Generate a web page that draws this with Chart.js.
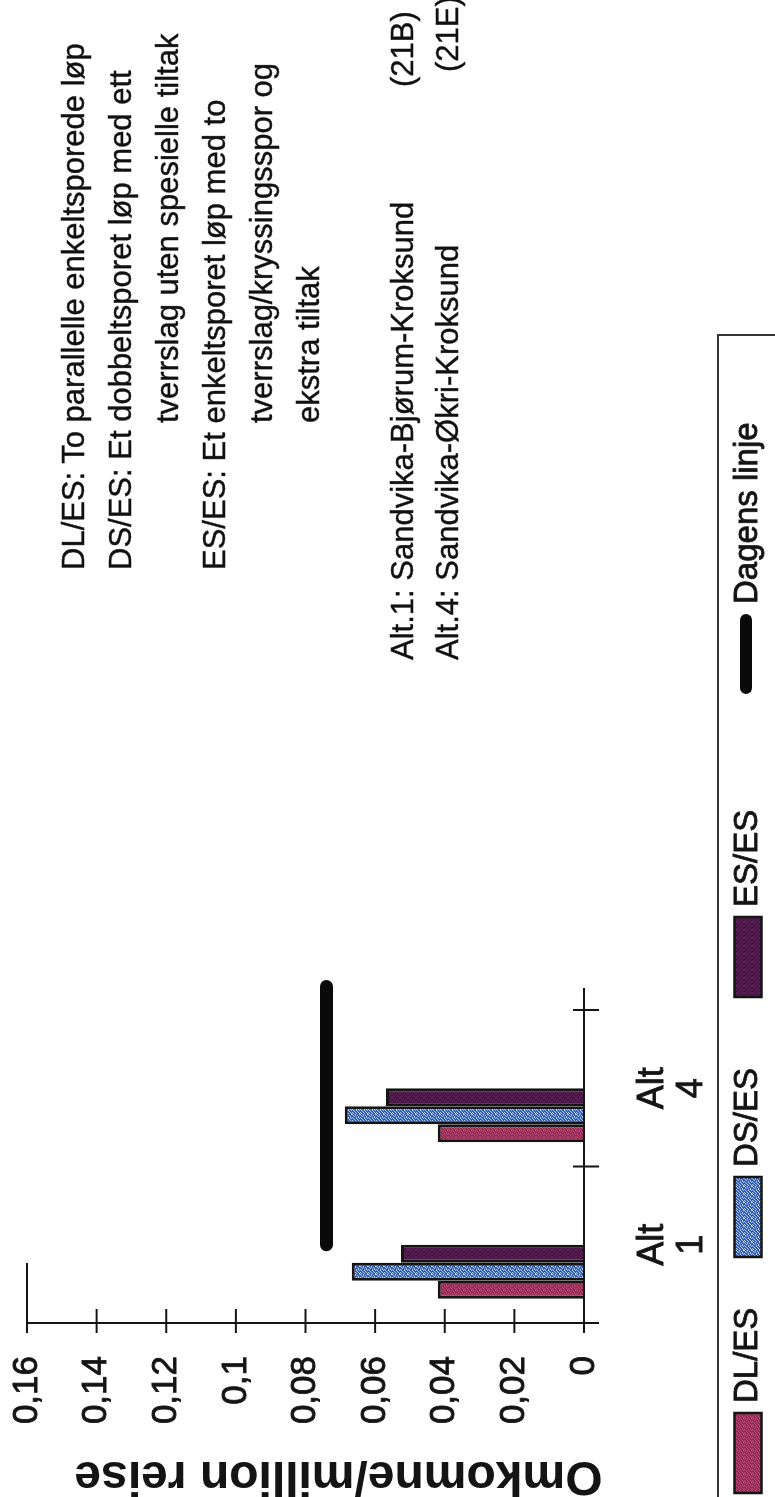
<!DOCTYPE html>
<html>
<head>
<meta charset="utf-8">
<script src="https://cdn.jsdelivr.net/npm/chart.js@4.4.1/dist/chart.umd.min.js"></script>
<style>
  html, body { margin: 0; padding: 0; background: #fff; overflow: hidden; width: 775px; height: 1497px; }
  /* the whole figure is laid out landscape and turned a quarter turn */
  #stage { position: absolute; left: 0; top: 0; width: 1497px; height: 775px;
           transform-origin: 0 0; transform: translate(0, 1497px) rotate(-90deg); background: #fff; }
  #stage canvas { position: absolute; left: 0; top: 0; }
  .note { position: absolute; font-family: "Liberation Sans", Arial, sans-serif; font-size: 31px;
          line-height: 47px; color: #111; white-space: nowrap; -webkit-text-stroke: 0.4px #111; }
  .note .in { padding-left: 147px; }
  .code { position: absolute; top: 0; }
</style>
</head>
<body>
<div id="stage">
  <canvas id="c" width="1497" height="775"></canvas>
  <div class="note" style="left:927px; top:50px;"><div>DL/ES: To parallelle enkeltsporede løp</div><div>DS/ES: Et dobbeltsporet løp med ett</div><div class="in">tverrslag uten spesielle tiltak</div><div>ES/ES: Et enkeltsporet løp med to</div><div class="in">tverrslag/kryssingsspor og</div><div class="in">ekstra tiltak</div></div>
  <div class="note" style="left:837px; top:379px; width:660px; height:47px;">Alt.1: Sandvika-Bjørum-Kroksund<span class="code" style="left:573px;">(21B)</span></div>
  <div class="note" style="left:837px; top:424px; width:660px; height:47px;">Alt.4: Sandvika-Økri-Kroksund<span class="code" style="left:588px;">(21E)</span></div>
</div>
<script>
// ---- data ----
const categories = [['Alt', '1'], ['Alt', '4']];
const seriesNames = ['DL/ES', 'DS/ES', 'ES/ES'];
const dlEs = [0.042, 0.042];
const dsEs = [0.0667, 0.0687];
const esEs = [0.0526, 0.0569];
const lineName = 'Dagens linje';
const dagensLinje = 0.074;
const dagensSpan = [0, 1.65];           // category positions where the reference line starts / ends
const yTickLabels = ['0', '0,02', '0,04', '0,06', '0,08', '0,1', '0,12', '0,14', '0,16'];
const yTitle = 'Omkomne/million reise';

const FONT = '"Liberation Sans", Arial, sans-serif';
const INK = '#141414';

const canvas = document.getElementById('c');
const ctx0 = canvas.getContext('2d');

// small speckled fills for the bars
function speckle(base, dot) {
  const t = document.createElement('canvas');
  t.width = 8; t.height = 8;
  const g = t.getContext('2d');
  g.fillStyle = base; g.fillRect(0, 0, 8, 8);
  g.fillStyle = dot;
  const mask = ['10010010', '00100101', '01001000', '10000110',
                '00110001', '01000100', '10011000', '00100011'];
  for (let y = 0; y < 8; y++) for (let x = 0; x < 8; x++) if (mask[y][x] === '1') g.fillRect(x, y, 1, 1);
  return ctx0.createPattern(t, 'repeat');
}
const fills = [
  speckle('#982856', '#b24c72'),
  speckle('#2f59b2', '#bcd2f3'),
  speckle('#481444', '#5d2458')
];

// axis lines with ticks crossing both sides, plus the value-axis title
const crossAxes = {
  id: 'crossAxes',
  afterDatasetsDraw(chart) {
    const { ctx, scales: { x, y }, chartArea: ca } = chart;
    const t = 12;
    ctx.save();
    ctx.strokeStyle = INK; ctx.lineWidth = 2; ctx.lineCap = 'butt';
    const seg = (x1, y1, x2, y2) => { ctx.beginPath(); ctx.moveTo(x1, y1); ctx.lineTo(x2, y2); ctx.stroke(); };
    const top = y.getPixelForValue(y.max);
    seg(ca.left, top, ca.left, ca.bottom + t);
    y.ticks.forEach(tk => { const py = y.getPixelForValue(tk.value); seg(ca.left - 10, py, ca.left + 14, py); });
    seg(ca.left, top, ca.left + 60, top);
    seg(ca.left, ca.bottom, ca.right + 22, ca.bottom);
    const n = x.getLabels().length;
    for (let i = 0; i <= n; i++) {
      const px = x.left + i * (x.width / n);
      seg(px, ca.bottom - 11, px, ca.bottom + 15);
    }
    // value-axis title, read upward
    ctx.translate(22, (ca.top + ca.bottom) / 2 + 33);
    ctx.rotate(-Math.PI / 2);
    ctx.font = 'bold 48px ' + FONT;
    ctx.fillStyle = INK; ctx.textAlign = 'center'; ctx.textBaseline = 'middle';
    ctx.fillText(yTitle, 0, 0);
    ctx.restore();
  }
};

// framed key along the bottom edge
const keyBox = {
  id: 'keyBox',
  afterDraw(chart) {
    const ctx = chart.ctx;
    const rowY = 748, sw = 80, sh = 27;
    const starts = [4, 240, 500, 803];
    ctx.save();
    ctx.strokeStyle = '#333'; ctx.lineWidth = 2;
    ctx.strokeRect(-10, 718, 1172, 100);
    ctx.font = '33px ' + FONT; ctx.textBaseline = 'middle'; ctx.textAlign = 'left';
    chart.data.datasets.forEach((ds, i) => {
      const x0 = starts[i];
      if (ds.type === 'line') {
        ctx.strokeStyle = ds.borderColor; ctx.lineWidth = 12; ctx.lineCap = 'round';
        ctx.beginPath(); ctx.moveTo(x0 + 6, rowY - 2); ctx.lineTo(x0 + sw - 6, rowY - 2); ctx.stroke();
      } else {
        ctx.fillStyle = ds.backgroundColor; ctx.fillRect(x0, rowY - sh / 2, sw, sh);
        ctx.strokeStyle = INK; ctx.lineWidth = 2.5; ctx.strokeRect(x0, rowY - sh / 2, sw, sh);
      }
      ctx.fillStyle = INK; ctx.strokeStyle = INK; ctx.lineWidth = 0.8;
      ctx.fillText(ds.label, x0 + sw + 10, rowY);
      ctx.strokeText(ds.label, x0 + sw + 10, rowY);
    });
    ctx.restore();
  }
};

const seriesValues = [dlEs, dsEs, esEs];
const datasets = seriesNames.map((name, i) => ({
  type: 'bar',
  label: name,
  data: seriesValues[i],
  backgroundColor: fills[i],
  borderColor: INK,
  borderWidth: 3,
  xAxisID: 'x',
  yAxisID: 'y',
  categoryPercentage: 0.69,
  barPercentage: 1.0
}));
datasets.push({
  type: 'line',
  label: lineName,
  data: dagensSpan.map(p => ({ x: p, y: dagensLinje })),
  xAxisID: 'xLine',
  yAxisID: 'y',
  borderColor: '#0a0a0a',
  borderWidth: 13,
  borderCapStyle: 'round',
  pointRadius: 0,
  fill: false,
  clip: false
});

new Chart(canvas, {
  data: { labels: categories, datasets },
  options: {
    responsive: false,
    animation: false,
    devicePixelRatio: 1,
    layout: { padding: { top: 27, right: 1010, left: 0, bottom: 0 } },
    plugins: { legend: { display: false }, tooltip: { enabled: false } },
    scales: {
      x: {
        type: 'category',
        grid: { display: false, drawTicks: false },
        border: { display: false },
        ticks: { font: { family: FONT, size: 36, lineHeight: 1.1 }, color: INK, padding: 49, maxRotation: 0,
                 autoSkip: false, textStrokeColor: INK, textStrokeWidth: 0.8 },
        afterFit(s) { s.height = 191; s.paddingLeft = 0; s.paddingRight = 0; }
      },
      xLine: { type: 'linear', min: -0.5, max: 1.5, display: false },
      y: {
        min: 0, max: 0.16,
        grid: { display: false, drawTicks: false },
        border: { display: false },
        ticks: { stepSize: 0.02, font: { family: FONT, size: 35 }, color: INK, padding: 33,
                 textStrokeColor: INK, textStrokeWidth: 0.8,
                 callback: (v, i) => yTickLabels[i] },
        afterFit(s) { s.width = 174; s.paddingTop = 0; s.paddingBottom = 0; }
      }
    }
  },
  plugins: [crossAxes, keyBox]
});
</script>
</body>
</html>
